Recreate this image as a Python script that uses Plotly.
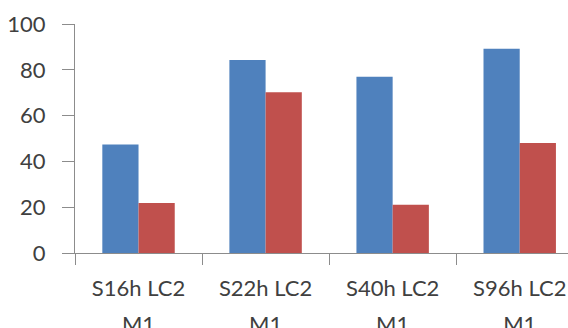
import plotly.graph_objects as go

categories = ["S16h LC2<br>M1", "S22h LC2<br>M1", "S40h LC2<br>M1", "S96h LC2<br>M1"]
series_a = [47.4, 84.3, 77.0, 89.2]
series_b = [21.8, 70.2, 21.1, 48.0]
y_ticks = [0, 20, 40, 60, 80, 100]

fig = go.Figure()
fig.add_trace(go.Bar(x=categories, y=series_a, marker=dict(color="#4F81BD", line=dict(width=0))))
fig.add_trace(go.Bar(x=categories, y=series_b, marker=dict(color="#C0504D", line=dict(width=0))))

font = dict(family="Lato", size=22, color="#404040")
xfont = dict(family="Lato", size=28, color="#404040")
ticktext = ["<br>".join("<span style='font-size:22px'>%s</span>" % p for p in c.split("<br>")) for c in categories]
fig.update_layout(
    width=568, height=328,
    margin=dict(l=75, r=0, t=24, b=75),
    paper_bgcolor="white", plot_bgcolor="white",
    showlegend=False, barmode="group", bargap=0.43, bargroupgap=0,
    font=font,
)
fig.update_xaxes(
    range=[-0.5, 3.38], showline=True, linecolor="#8c8c8c", linewidth=1,
    ticks="outside", tickson="boundaries", ticklen=11, tickcolor="#8c8c8c",
    showgrid=False, tickfont=xfont, ticklabelstandoff=8, automargin=False,
    tickmode="array", tickvals=categories, ticktext=ticktext,
)
fig.update_yaxes(
    range=[0, 100], tickvals=y_ticks, showline=True, linecolor="#8c8c8c", linewidth=1,
    ticks="outside", ticklen=12, tickcolor="#8c8c8c", showgrid=False, zeroline=False,
    tickfont=font, ticklabelstandoff=12, automargin=False,
)
fig.write_html("out.html")
